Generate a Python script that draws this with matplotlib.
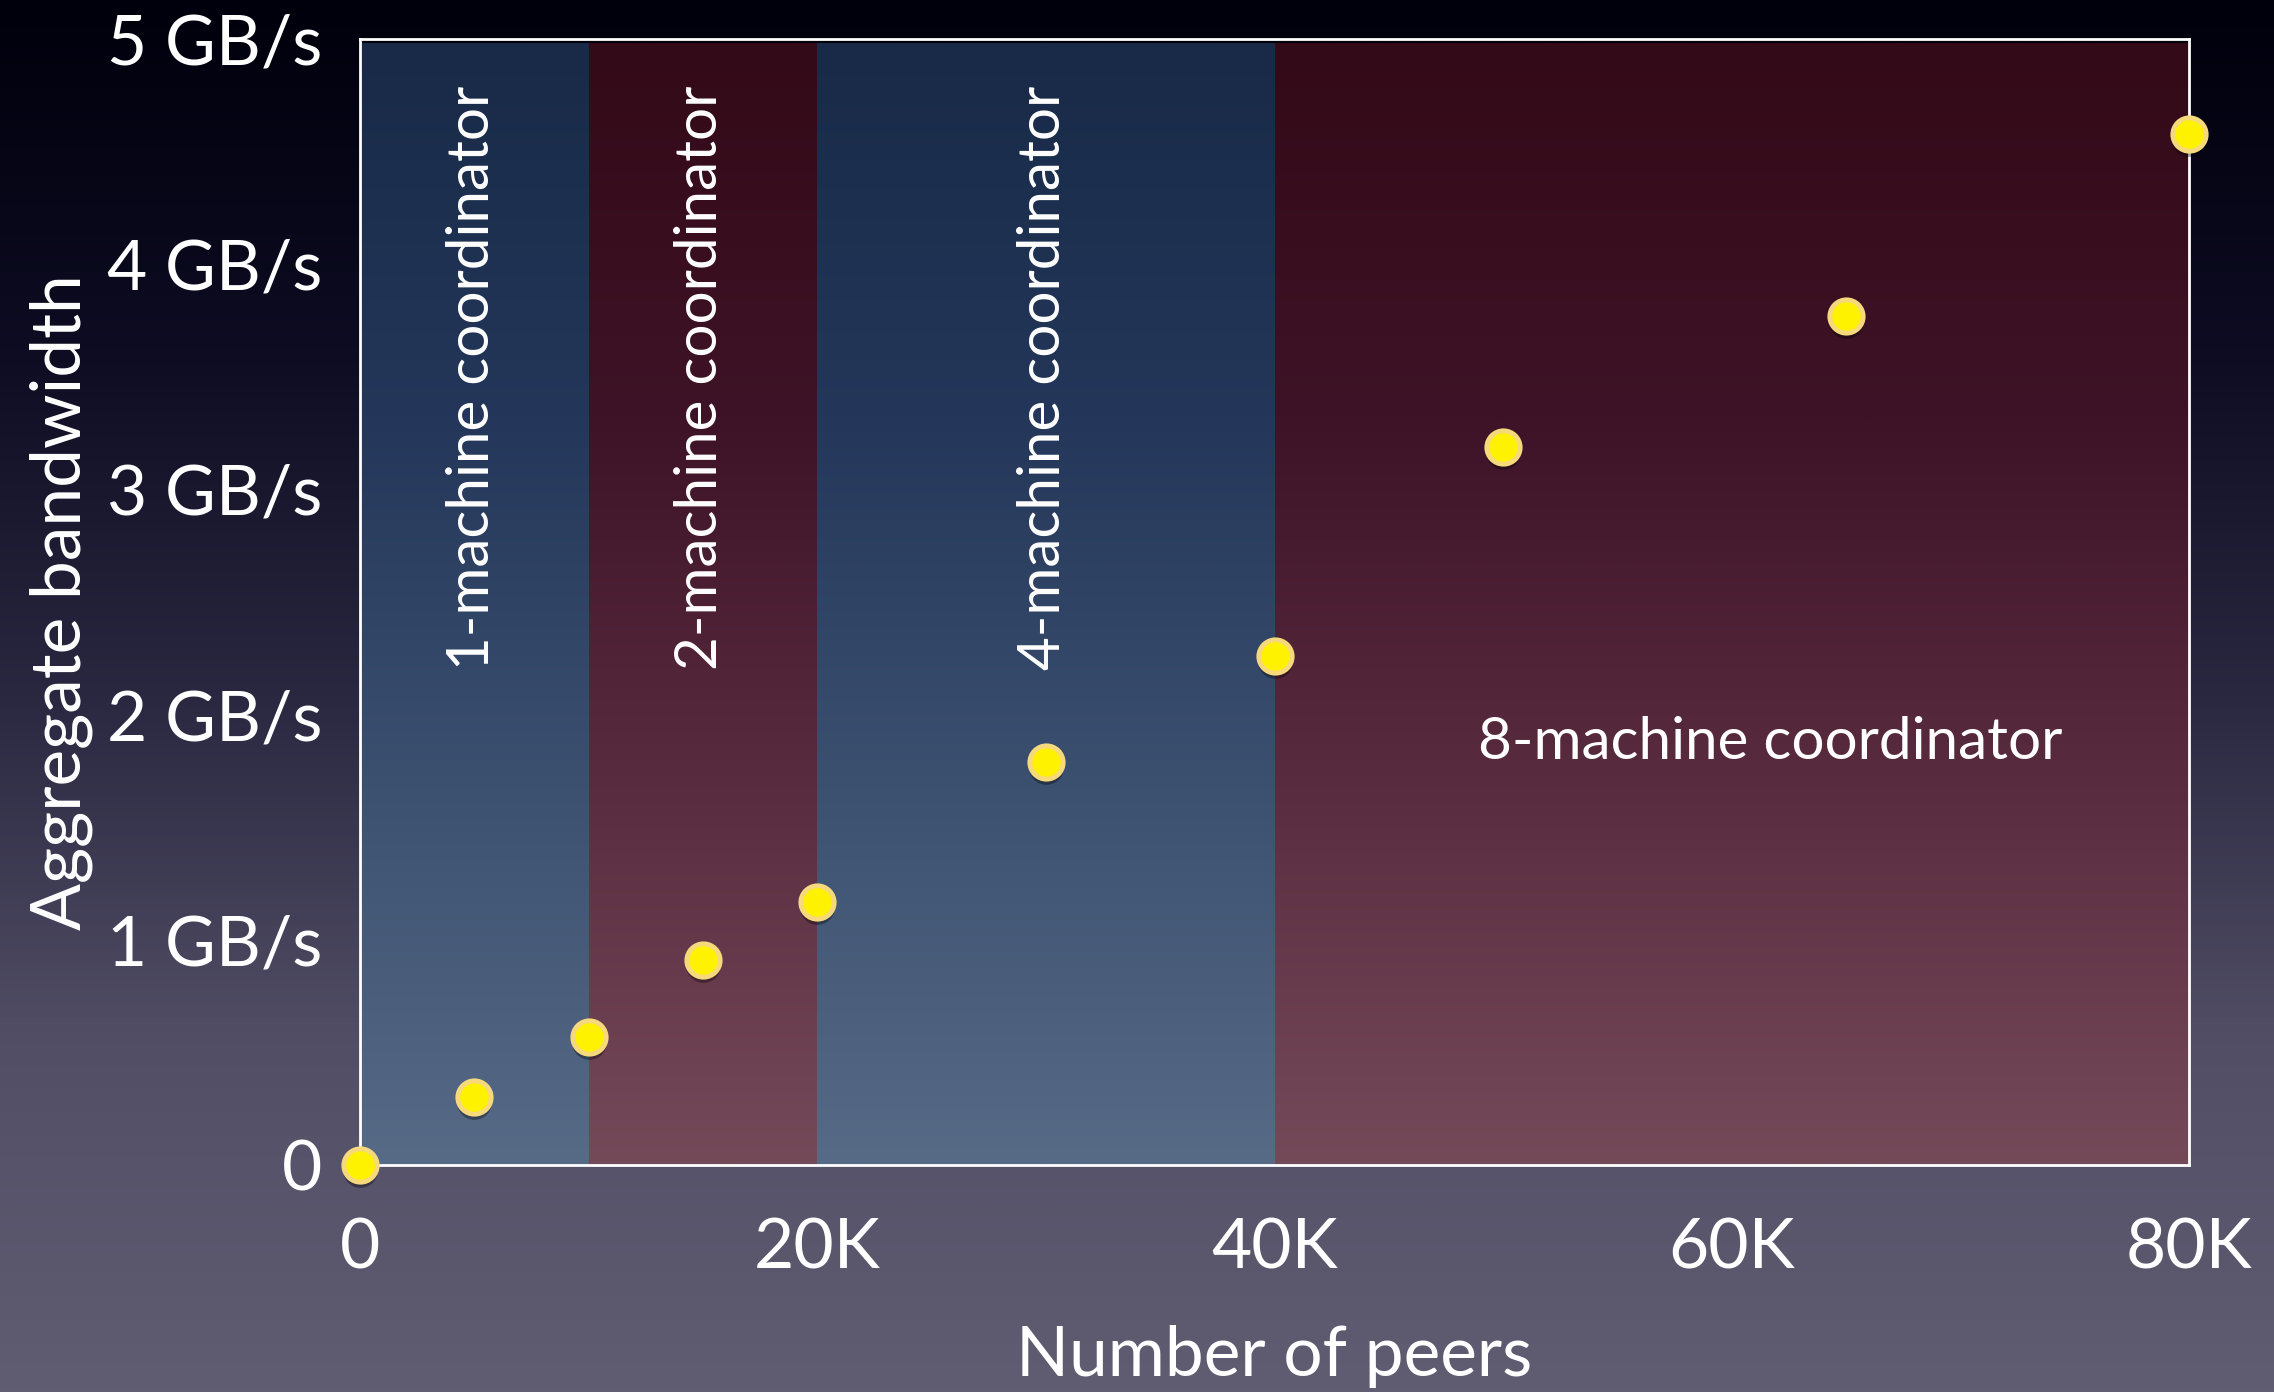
import numpy as np
import matplotlib
matplotlib.use("Agg")
import matplotlib.pyplot as plt
from matplotlib.colors import LinearSegmentedColormap
from matplotlib.transforms import offset_copy

plt.rcParams['font.family'] = ['Lato', 'DejaVu Sans']

# Measured aggregate bandwidth vs. number of peers
peers = [0, 5000, 10000, 15000, 20000, 30000, 40000, 50000, 65000, 80000]
bandwidth_gbs = [0.0, 0.30, 0.57, 0.91, 1.17, 1.79, 2.26, 3.19, 3.77, 4.58]

# Coordinator size regions along the x axis
region_starts = [0, 10000, 20000, 40000]
region_ends = [10000, 20000, 40000, 80000]
region_kinds = ['blue', 'red', 'blue', 'red']
region_labels = ['1-machine coordinator', '2-machine coordinator',
                 '4-machine coordinator', '8-machine coordinator']

x_ticks = [0, 20000, 40000, 60000, 80000]
x_tick_labels = ['0', '20K', '40K', '60K', '80K']
y_ticks = [0, 1, 2, 3, 4, 5]
y_tick_labels = ['0', '1 GB/s', '2 GB/s', '3 GB/s', '4 GB/s', '5 GB/s']

W, H = 2274, 1392
fig = plt.figure(figsize=(W / 100, H / 100), dpi=100)

# Slide background: dark navy at the top fading to a muted grey-violet
bg = fig.add_axes([0, 0, 1, 1], zorder=-10)
bg_cmap = LinearSegmentedColormap.from_list(
    'bg', [(0.0, '#605d72'), (0.25, '#514e66'), (0.5, '#2a2840'),
           (0.75, '#0d0c22'), (1.0, '#00000c')])
grad = np.linspace(0, 1, 512).reshape(-1, 1)
bg.imshow(grad, aspect='auto', cmap=bg_cmap, origin='lower', extent=(0, 1, 0, 1))
bg.set_axis_off()

left, right, top, bottom = 360, 2189, 39, 1165
ax = fig.add_axes([left / W, (H - bottom) / H, (right - left) / W, (bottom - top) / H])
ax.patch.set_alpha(0)

band_cmaps = {
    'blue': LinearSegmentedColormap.from_list('b', ['#576b87', '#3c5070', '#24375a', '#182a47']),
    'red': LinearSegmentedColormap.from_list('r', ['#744a59', '#5a2c40', '#3e1327', '#330a17']),
}
for s, e, k in zip(region_starts, region_ends, region_kinds):
    ax.imshow(grad, aspect='auto', cmap=band_cmaps[k], origin='lower',
              extent=(s, e, 0, 4.98), zorder=0)

ax.set_xlim(0, 80000)
ax.set_ylim(0, 5)

for sp in ax.spines.values():
    sp.set_color('white')
    sp.set_linewidth(2)

# Soft drop shadow under each marker
shadow = offset_copy(ax.transData, fig=fig, x=0, y=-5, units='dots')
ax.plot(peers, bandwidth_gbs, 'o', ms=25, mfc=(0, 0, 0, 0.35), mec='none',
        transform=shadow, clip_on=False, zorder=4)
ax.plot(peers, bandwidth_gbs, 'o', ms=24, mfc='#fff200', mec='#f6d97c', mew=3.5,
        clip_on=False, zorder=5)

ax.set_xticks(x_ticks)
ax.set_xticklabels(x_tick_labels)
ax.set_yticks(y_ticks)
ax.set_yticklabels(y_tick_labels)
ax.tick_params(axis='both', length=0, colors='white', labelsize=50)
ax.tick_params(axis='x', pad=38)
ax.tick_params(axis='y', pad=27)

ax.set_xlabel('Number of peers', color='white', fontsize=50, labelpad=32)
ax.set_ylabel('Aggregate bandwidth', color='white', fontsize=50, labelpad=10)

# Region labels
vert_x = [4900, 14900, 29900]
for xv, lab in zip(vert_x, region_labels[:3]):
    ax.text(xv, 2.2, lab, rotation=90, color='white', fontsize=42,
            ha='center', va='bottom', zorder=3)
ax.text(61700, 1.875, region_labels[3], color='white', fontsize=42,
        ha='center', va='center', zorder=3)

fig.savefig('out.png', dpi=100)
